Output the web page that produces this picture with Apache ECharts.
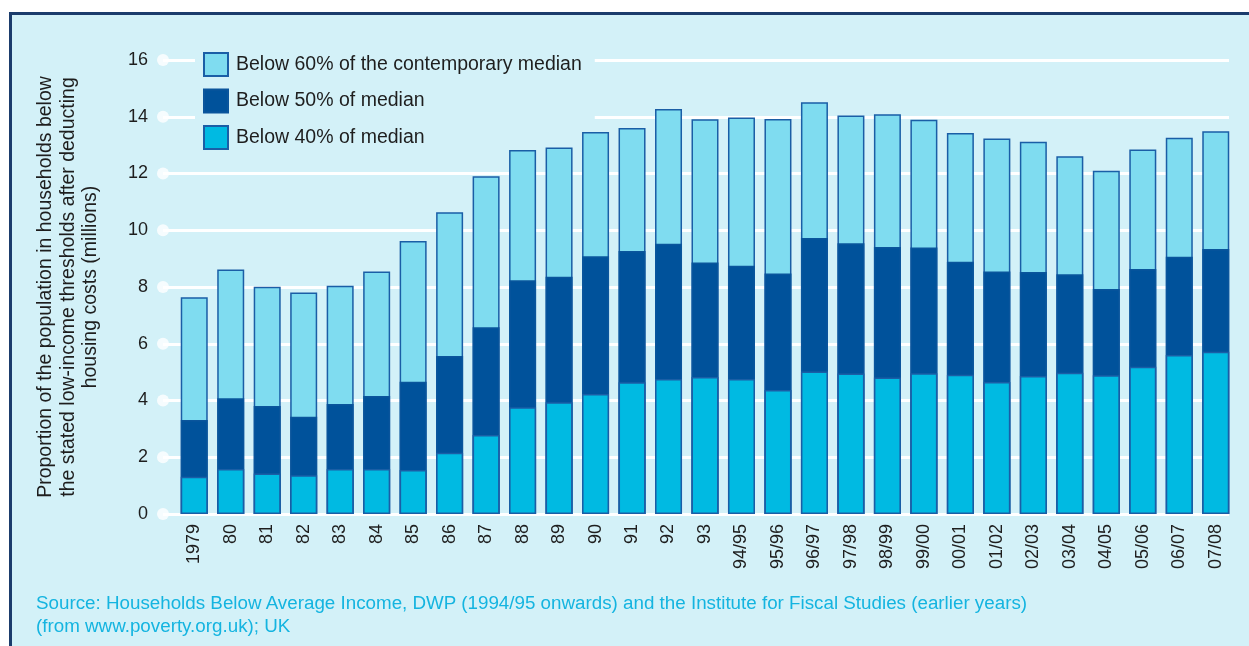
<!DOCTYPE html>
<html>
<head>
<meta charset="utf-8">
<script src="https://cdn.jsdelivr.net/npm/echarts@6/dist/echarts.min.js"></script>
<style>
html,body{margin:0;padding:0;background:#fff;width:1249px;height:646px;overflow:hidden;font-family:"Liberation Sans",Arial,sans-serif;}
#panel{position:absolute;left:9px;top:12px;width:1240px;height:634px;background:#d3f1f8;border-top:3px solid #1b3c6c;border-left:3px solid #1b3c6c;box-sizing:border-box;}
#chart{position:absolute;left:0;top:0;width:1249px;height:646px;}
#source{position:absolute;left:36px;top:591px;color:#14b4e0;font-size:18.8px;line-height:23px;font-family:"Liberation Sans",Arial,sans-serif;white-space:nowrap;}
</style>
</head>
<body>
<div id="panel"></div>
<div id="chart"></div>
<div id="source">Source: Households Below Average Income, DWP (1994/95 onwards) and the Institute for Fiscal Studies (earlier years)<br>(from www.poverty.org.uk); UK</div>
<script>
const categories = ['1979','80','81','82','83','84','85','86','87','88','89','90','91','92','93',
  '94/95','95/96','96/97','97/98','98/99','99/00','00/01','01/02','02/03','03/04','04/05','05/06','06/07','07/08'];
const below60 = [7.64,8.62,8.01,7.81,8.04,8.55,9.62,10.63,11.9,12.83,12.92,13.46,13.6,14.27,13.91,
  13.97,13.92,14.51,14.04,14.09,13.89,13.43,13.23,13.12,12.61,12.1,12.85,13.26,13.49];
const below50 = [3.31,4.08,3.81,3.43,3.88,4.16,4.66,5.57,6.58,8.24,8.36,9.08,9.27,9.52,8.86,
  8.75,8.48,9.73,9.54,9.41,9.39,8.89,8.55,8.53,8.45,7.93,8.63,9.07,9.34];
const below40 = [1.31,1.59,1.43,1.37,1.59,1.59,1.55,2.16,2.78,3.76,3.94,4.23,4.64,4.76,4.83,
  4.76,4.37,5.02,4.95,4.81,4.96,4.91,4.65,4.86,4.98,4.89,5.19,5.6,5.72];
const yTicks = [0,2,4,6,8,10,12,14,16];
const seriesNames = ['Below 60% of the contemporary median','Below 50% of median','Below 40% of median'];

const chart = echarts.init(document.getElementById('chart'), null, {renderer:'canvas'});
const FONT = '"Liberation Sans", Arial, sans-serif';
const option = {
  backgroundColor: 'transparent',
  animation: false,
  textStyle: {fontFamily: FONT},
  grid: [
    {left: 176, right: 15, top: 60, bottom: 132},
    {left: 163, right: 20, top: 60, bottom: 132}
  ],
  legend: {
    orient: 'vertical',
    left: 195, top: 46,
    z: 1,
    padding: [6, 13, 6, 8],
    backgroundColor: '#d3f1f8',
    itemWidth: 24, itemHeight: 23, itemGap: 11.5,
    icon: 'rect',
    data: seriesNames,
    textStyle: {fontSize: 19.5, lineHeight: 22, color: '#1e1e1e', fontFamily: FONT, padding: [0,0,0,3]}
  },
  xAxis: [
    {type: 'category', gridIndex: 0, data: categories,
     axisLine: {show: false}, axisTick: {show: false},
     axisLabel: {interval: 0, rotate: 90, fontSize: 18, color: '#1e1e1e', margin: 10, fontFamily: FONT}},
    {type: 'value', gridIndex: 1, min: 0, max: 1, show: false}
  ],
  yAxis: [
    {type: 'value', gridIndex: 0, min: 0, max: 16, interval: 2, show: false},
    {type: 'value', gridIndex: 1, min: 0, max: 16, interval: 2,
     axisLine: {show: false}, axisTick: {show: false},
     axisLabel: {fontSize: 18, color: '#1e1e1e', margin: 15, fontFamily: FONT},
     splitLine: {show: true, lineStyle: {color: '#ffffff', width: 3}},
     name: 'Proportion of the population in households below\nthe stated low-income thresholds after deducting\nhousing costs (millions)',
     nameLocation: 'middle', nameRotate: 90, nameGap: 61,
     nameTextStyle: {fontSize: 19.5, color: '#1e1e1e', lineHeight: 22.5, align: 'center', fontFamily: FONT}}
  ],
  series: [
    {type: 'scatter', xAxisIndex: 1, yAxisIndex: 1, data: yTicks.map(t => [0, t]),
     symbol: 'circle', symbolSize: 12, itemStyle: {color: '#ffffff'}, clip: false, silent: true, z: 1},
    {name: seriesNames[0], type: 'bar', xAxisIndex: 0, yAxisIndex: 0, data: below60, barWidth: 27, barGap: '-100%',
     itemStyle: {color: '#7fdcf0', borderColor: '#1a5ea6', borderWidth: 1.5}, z: 2},
    {name: seriesNames[1], type: 'bar', xAxisIndex: 0, yAxisIndex: 0, data: below50, barWidth: 27, barGap: '-100%',
     itemStyle: {color: '#00529b', borderColor: '#0a559c', borderWidth: 1.5}, z: 3},
    {name: seriesNames[2], type: 'bar', xAxisIndex: 0, yAxisIndex: 0, data: below40, barWidth: 27, barGap: '-100%',
     itemStyle: {color: '#00bae2', borderColor: '#1a5ea6', borderWidth: 1.5}, z: 4}
  ]
};
chart.setOption(option);
</script>
</body>
</html>
